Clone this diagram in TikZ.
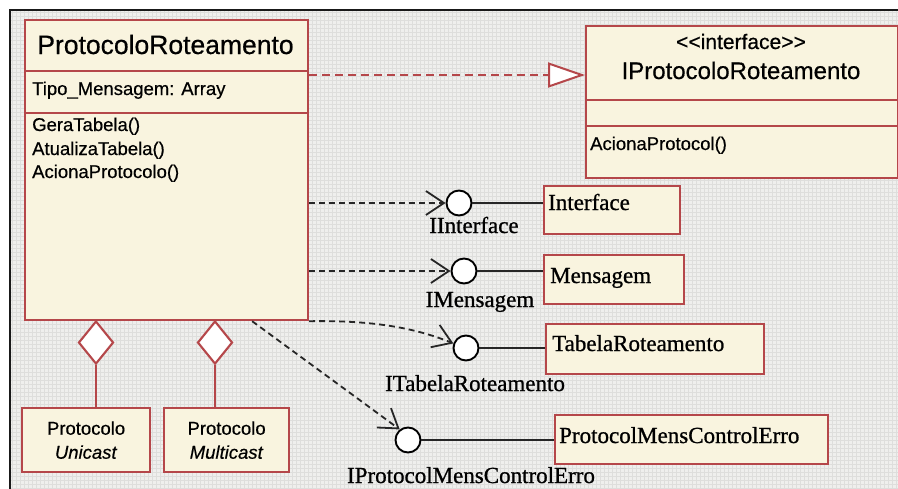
\documentclass[tikz,border=0pt]{standalone}
\usepackage{fontspec}
\setmainfont[FakeBold=0.9]{Liberation Serif}
\newfontfamily\arialf[FakeBold=0.5]{Liberation Sans}
\usetikzlibrary{arrows.meta,shapes.geometric,calc}
\definecolor{umlred}{HTML}{B5474A}
\definecolor{umlfill}{HTML}{F9F4DF}
\definecolor{paper}{HTML}{EFEFED}
\definecolor{gridc}{HTML}{DEDEDC}
\tikzset{
  cls/.style={draw=umlred, fill=umlfill, line width=2.2pt, inner sep=0pt, anchor=north west},
  sepline/.style={draw=umlred, line width=2pt},
  lolly/.style={circle, draw=black, fill=white, line width=1.9pt, minimum size=25pt, inner sep=0pt},
  agg/.style={diamond, draw=umlred, fill=white, line width=2.1pt, minimum width=35pt, minimum height=43pt, inner sep=0pt, anchor=north},
  aggline/.style={draw=umlred, line width=2.1pt},
  dep/.style={draw=black!85, line width=1.8pt, dash pattern=on 6pt off 4pt, -{Straight Barb[length=18pt, width=24pt, line width=1.8pt]}},
  real/.style={draw=umlred, line width=1.9pt, dash pattern=on 8pt off 5pt, -{Triangle[open, fill=white, length=37pt, width=25pt, line width=2pt]}},
  conn/.style={draw=black!85, line width=1.9pt},
  sanstxt/.style={inner sep=0pt, font=\arialf\fontsize{18.5}{24}\selectfont},
  seriftxt/.style={inner sep=0pt, font=\fontsize{23}{27}\selectfont},
}
\begin{document}
\begin{tikzpicture}[x=1pt, y=-1pt]
\useasboundingbox (0,0) rectangle (898,488);

% drawing sheet with its faint grid and frame
\fill[paper] (10,10) rectangle (898,488);
\draw[gridc, line width=0.4pt, step=4pt] (10,10) grid (898,488);
\draw[black!90, line width=2pt] (10,490) -- (10,10) -- (898,10);

% class ProtocoloRoteamento
\node[cls, minimum width=283pt, minimum height=300pt] (main) at (24,19) {};
\draw[sepline] ($(main.north west)+(0,52)$) -- ($(main.north east)+(0,52)$);
\draw[sepline] ($(main.north west)+(0,94)$) -- ($(main.north east)+(0,94)$);
\node[inner sep=0pt, font=\arialf\fontsize{26.5}{30}\selectfont, anchor=base] (mtitle) at (165.5,54) {ProtocoloRoteamento};
\node[sanstxt, anchor=base west] (mattr) at (32,95) {Tipo\_Mensagem: Array};
\node[sanstxt, anchor=base west] (mop1) at (32,131) {GeraTabela()};
\node[sanstxt, anchor=base west] (mop2) at (32,155) {AtualizaTabela()};
\node[sanstxt, anchor=base west] (mop3) at (32,178) {AcionaProtocolo()};

% interface IProtocoloRoteamento
\node[cls, minimum width=312pt, minimum height=152pt] (ip) at (585,25) {};
\draw[sepline] ($(ip.north west)+(0,75)$) -- ($(ip.north east)+(0,75)$);
\draw[sepline] ($(ip.north west)+(0,101)$) -- ($(ip.north east)+(0,101)$);
\node[inner sep=0pt, font=\arialf\fontsize{21}{24}\selectfont, anchor=base] (ister) at (741,49) {<{}<interface>{}>};
\node[inner sep=0pt, font=\arialf\fontsize{24}{28}\selectfont, anchor=base] (ititle) at (741,79) {IProtocoloRoteamento};
\node[sanstxt, anchor=base west] (iop) at (590,150) {AcionaProtocol()};

% realization
\coordinate (rS) at ($(main.north east)+(0,56)$);
\coordinate (rE) at (rS -| ip.west);
\draw[real] (rS) -- (rE);

% provided interfaces (lollipops)
\node[lolly] (c1) at (459,203) {};
\node[lolly] (c2) at (464,271) {};
\node[lolly] (c3) at (466,348) {};
\node[lolly] (c4) at (408,440) {};
\node[seriftxt, anchor=base] (l1) at (474,233) {IInterface};
\node[seriftxt, anchor=base] (l2) at (480,307) {IMensagem};
\node[seriftxt, anchor=base] (l3) at (475,391) {ITabelaRoteamento};
\node[seriftxt, anchor=base] (l4) at (471,483) {IProtocolMensControlErro};

% component classes
\node[cls, minimum width=136pt, minimum height=48pt] (b1) at (543,185) {};
\node[cls, minimum width=140pt, minimum height=49pt] (b2) at (543,254) {};
\node[cls, minimum width=218pt, minimum height=50pt] (b3) at (545,323) {};
\node[cls, minimum width=273pt, minimum height=49pt] (b4) at (554,414) {};
\node[seriftxt, anchor=base west] (t1) at (548,210) {Interface};
\node[seriftxt, anchor=base west] (t2) at (550,283) {Mensagem};
\node[seriftxt, anchor=base west] (t3) at (552,351) {TabelaRoteamento};
\node[seriftxt, anchor=base west] (t4) at (559,443) {ProtocolMensControlErro};

\draw[conn] (c1.east) -- (c1.east -| b1.west);
\draw[conn] (c2.east) -- (c2.east -| b2.west);
\draw[conn] (c3.east) -- (c3.east -| b3.west);
\draw[conn] (c4.east) -- (c4.east -| b4.west);

% dependencies towards the interfaces
\draw[dep] (main.east |- c1) -- (c1.west);
\draw[dep] (main.east |- c2) -- (c2.west);
\draw[dep] (main.south east) .. controls (380,320) and (420,330) .. (c3.160);
\coordinate (d4) at ($(main.south west)!0.8!(main.south east)$);
\draw[dep] (d4) -- (c4.128);

% aggregated protocol classes
\node[agg] (g1) at (96,320) {};
\node[agg] (g2) at (215,320) {};
\node[cls, minimum width=128pt, minimum height=64pt, align=center, sanstxt] (uni) at (21,407) {Protocolo\\\textit{Unicast}};
\node[cls, minimum width=125pt, minimum height=64pt, align=center, sanstxt] (multi) at (163,407) {Protocolo\\\textit{Multicast}};
\draw[aggline] (g1.south) -- (g1.south |- uni.north);
\draw[aggline] (g2.south) -- (g2.south |- multi.north);
\end{tikzpicture}
\end{document}
